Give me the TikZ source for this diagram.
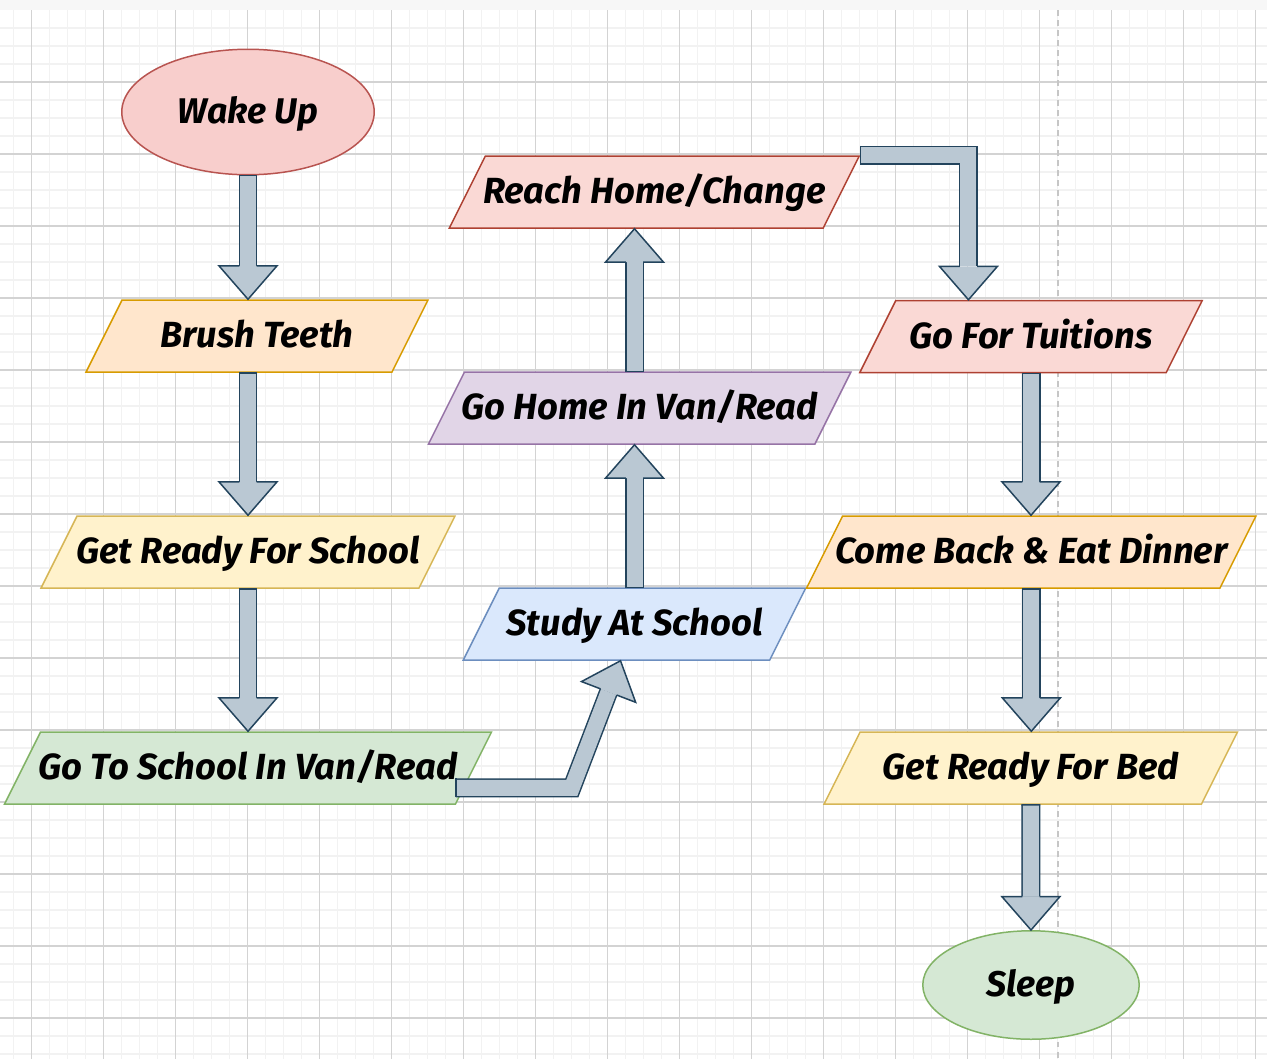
\documentclass[tikz,border=0pt]{standalone}
\usepackage{fontspec}
\usetikzlibrary{shapes.geometric,calc}
\newfontfamily\flowfamily{Fira Sans}

\definecolor{redfill}{HTML}{F8CECC}\definecolor{redline}{HTML}{B85450}
\definecolor{orangefill}{HTML}{FFE6CC}\definecolor{orangeline}{HTML}{D79B00}
\definecolor{yellowfill}{HTML}{FFF2CC}\definecolor{yellowline}{HTML}{D6B656}
\definecolor{greenfill}{HTML}{D5E8D4}\definecolor{greenline}{HTML}{82B366}
\definecolor{bluefill}{HTML}{DAE8FC}\definecolor{blueline}{HTML}{6C8EBF}
\definecolor{purplefill}{HTML}{E1D5E7}\definecolor{purpleline}{HTML}{9673A6}
\definecolor{salmonfill}{HTML}{FAD9D5}\definecolor{salmonline}{HTML}{AE4132}
\definecolor{arrowfill}{HTML}{BAC8D3}\definecolor{arrowline}{HTML}{23445D}
\definecolor{gridminor}{HTML}{F2F2F2}\definecolor{gridmajor}{HTML}{D3D3D3}

\tikzset{
  flowbox/.style={trapezium, trapezium left angle=63.43, trapezium right angle=116.57,
    trapezium stretches body, text height=15.9pt, text depth=2.6pt,
    inner xsep=1pt, inner ysep=11.24pt, line width=0.85pt,
    font=\flowfamily\bfseries\itshape\fontsize{20.7}{24}\selectfont},
  terminal/.style={ellipse, inner sep=0pt, text height=15.9pt, text depth=2.6pt, line width=0.85pt,
    font=\flowfamily\bfseries\itshape\fontsize{20.3}{24}\selectfont},
  shaft/.style={draw=arrowline, line width=0.85pt, double=arrowfill, double distance=9.1pt, line join=miter},
  headline/.style={draw=arrowline, line width=0.85pt, line join=miter},
}

% text that does not widen the box
\newcommand{\flowtext}[1]{\makebox[0pt]{#1}}

% block arrow: #1 start, #2 tip
\newcommand{\blockarrow}[2]{%
  \coordinate (hb) at ($(#2)!19pt!(#1)$);
  \draw[shaft] (#1) -- (hb);
  \draw[headline] ($(#1)!5.4pt!90:(hb)$) -- ($(#1)!5.4pt!-90:(hb)$);
  \fill[arrowfill] ($(hb)!16.5pt!90:(#2)$) -- (#2) -- ($(hb)!16.5pt!-90:(#2)$) -- cycle;
  \draw[headline] ($(hb)!4.9pt!90:(#2)$) -- ($(hb)!16.5pt!90:(#2)$) -- (#2)
    -- ($(hb)!16.5pt!-90:(#2)$) -- ($(hb)!4.9pt!-90:(#2)$);
}
% block arrow with one bend: #1 start, #2 bend, #3 tip
\newcommand{\bentarrow}[3]{%
  \coordinate (hb) at ($(#3)!19pt!(#2)$);
  \draw[shaft] (#1) -- (#2) -- (hb);
  \draw[headline] ($(#1)!5.4pt!90:(#2)$) -- ($(#1)!5.4pt!-90:(#2)$);
  \fill[arrowfill] ($(hb)!16.5pt!90:(#3)$) -- (#3) -- ($(hb)!16.5pt!-90:(#3)$) -- cycle;
  \draw[headline] ($(hb)!4.9pt!90:(#3)$) -- ($(hb)!16.5pt!90:(#3)$) -- (#3)
    -- ($(hb)!16.5pt!-90:(#3)$) -- ($(hb)!4.9pt!-90:(#3)$);
}

\begin{document}
\begin{tikzpicture}[x=0.02cm,y=-0.02cm]

      \useasboundingbox (0,0) rectangle (1267,1059);

      % Grid
      \fill[white] (0,0) rectangle (1267,1059);
      \fill[gray!6] (0,0) rectangle (1267,10);
      \foreach \gx in {13.5,31.5,...,1267}
        \draw[gridminor, line width=1.1pt] (\gx,10) -- (\gx,1059);
      \foreach \gy in {28,46,...,1059}
        \draw[gridminor, line width=1.1pt] (0,\gy) -- (1267,\gy);
      \foreach \gx in {31.5,103.5,...,1267}
        \draw[gridmajor, line width=0.6pt] (\gx,10) -- (\gx,1059);
      \foreach \gy in {82,154,...,1059}
        \draw[gridmajor, line width=0.6pt] (0,\gy) -- (1267,\gy);
      \draw[gray!45, line width=1.1pt, dash pattern=on 3.4pt off 2.3pt] (1057.7,10) -- (1057.7,1059);

      % Nodes
      \node[terminal, fill=redfill, draw=redline, minimum width=5.05cm, minimum height=2.51cm] (wake) at (248,112) {Wake Up};
      \node[flowbox, fill=orangefill, draw=orangeline, minimum width=6.84cm] (brush) at (257,336) {\flowtext{Brush Teeth}};
      \node[flowbox, fill=yellowfill, draw=yellowline, minimum width=8.28cm] (ready) at (248,552) {\flowtext{Get Ready For School}};
      \node[flowbox, fill=greenfill, draw=greenline, minimum width=9.74cm] (van) at (248,768) {\flowtext{Go To School In Van/Read}};
      \node[flowbox, fill=bluefill, draw=blueline, minimum width=6.85cm] (study) at (634.5,624) {\flowtext{Study At School}};
      \node[flowbox, fill=purplefill, draw=purpleline, minimum width=8.45cm] (gohome) at (639.7,408) {\flowtext{Go Home In Van/Read}};
      \node[flowbox, fill=salmonfill, draw=salmonline, minimum width=8.2cm] (reach) at (654.3,192) {\flowtext{Reach Home/Change}};
      \node[flowbox, fill=salmonfill, draw=salmonline, minimum width=6.85cm] (tuitions) at (1031,336.5) {\flowtext{Go For Tuitions}};
      \node[flowbox, fill=orangefill, draw=orangeline, minimum width=8.99cm] (dinner) at (1031.3,552) {\flowtext{Come Back \& Eat Dinner}};
      \node[flowbox, fill=yellowfill, draw=yellowline, minimum width=8.27cm] (bed) at (1030.8,768) {\flowtext{Get Ready For Bed}};
      \node[terminal, fill=greenfill, draw=greenline, minimum width=4.33cm, minimum height=2.17cm] (sleep) at (1031,985) {Sleep};

      % Arrow ends
      \coordinate (vanout) at ([yshift=0.34cm]van.bottom right corner);
      \coordinate (vanbend) at ([xshift=2.32cm]vanout);
      \coordinate (studyin) at ([xshift=-0.28cm]study.center |- study.south);
      \coordinate (reachbend) at ([xshift=2.16cm]reach.top right corner);

      % Arrows
      \blockarrow{wake.south}{wake.south |- brush.north}
      \blockarrow{brush.south -| ready.north}{ready.north}
      \blockarrow{ready.south}{van.north}
      \bentarrow{vanout}{vanbend}{studyin}
      \blockarrow{study.center |- study.north}{study.center |- gohome.south}
      \blockarrow{study.center |- gohome.north}{study.center |- reach.south}
      \bentarrow{reach.top right corner}{reachbend}{reachbend |- tuitions.north}
      \blockarrow{tuitions.center |- tuitions.south}{tuitions.center |- dinner.north}
      \blockarrow{dinner.center |- dinner.south}{dinner.center |- bed.north}
      \blockarrow{bed.center |- bed.south}{sleep.north}

\end{tikzpicture}
\end{document}
